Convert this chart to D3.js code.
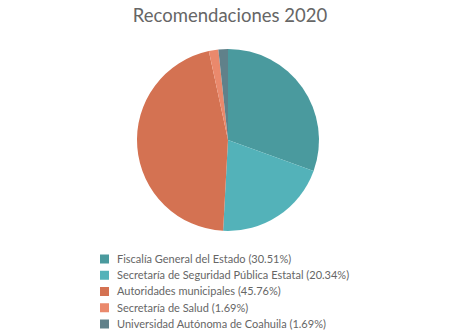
<!DOCTYPE html>
<html>
<head>
<meta charset="utf-8">
<script src="https://cdn.jsdelivr.net/npm/d3@7"></script>
<style>
  body { margin: 0; background: #fff; }
  svg { font-family: Lato, "Open Sans", sans-serif; }
</style>
</head>
<body>
<div id="chart"></div>
<script>
'use strict';

const width = 474,
    height = 336;

// datos
const categories = [
    "Fiscalía General del Estado",
    "Secretaría de Seguridad Pública Estatal",
    "Autoridades municipales",
    "Secretaría de Salud",
    "Universidad Autónoma de Coahuila"
];
const values = [30.51, 20.34, 45.76, 1.69, 1.69];
const colors = ["#4a9a9e", "#53b2b9", "#d47252", "#ea896c", "#60818a"];

const data = categories.map((c, i) => ({name: c, value: values[i]}));

const color = d3.scaleOrdinal().domain(categories).range(colors);

const svg = d3.select("#chart")
    .append("svg")
    .attr("width", width)
    .attr("height", height);

svg.append("text")
    .attr("x", 230)
    .attr("y", 22)
    .attr("text-anchor", "middle")
    .attr("font-size", 18.5)
    .attr("fill", "#666")
    .text("Recomendaciones 2020");

const cx = 228, cy = 140, radius = 91;

const pie = d3.pie().sort(null).value(d => d.value);
const arc = d3.arc().innerRadius(0).outerRadius(radius);

svg.append("g")
    .attr("transform", `translate(${cx},${cy})`)
    .selectAll("path")
    .data(pie(data))
    .join("path")
    .attr("d", arc)
    .attr("fill", d => color(d.data.name));

const rowY = d3.scalePoint()
    .domain(categories)
    .range([259, 324]);

const legend = svg.append("g")
    .selectAll("g")
    .data(data)
    .join("g")
    .attr("transform", d => `translate(100,${rowY(d.name)})`);

legend.append("rect")
    .attr("x", 0)
    .attr("y", -4.5)
    .attr("width", 9)
    .attr("height", 9)
    .attr("fill", d => color(d.name));

legend.append("text")
    .attr("x", 17)
    .attr("dy", "0.35em")
    .attr("font-size", 11)
    .attr("fill", "#666")
    .text(d => `${d.name} (${d.value.toFixed(2)}%)`);
</script>
</body>
</html>
